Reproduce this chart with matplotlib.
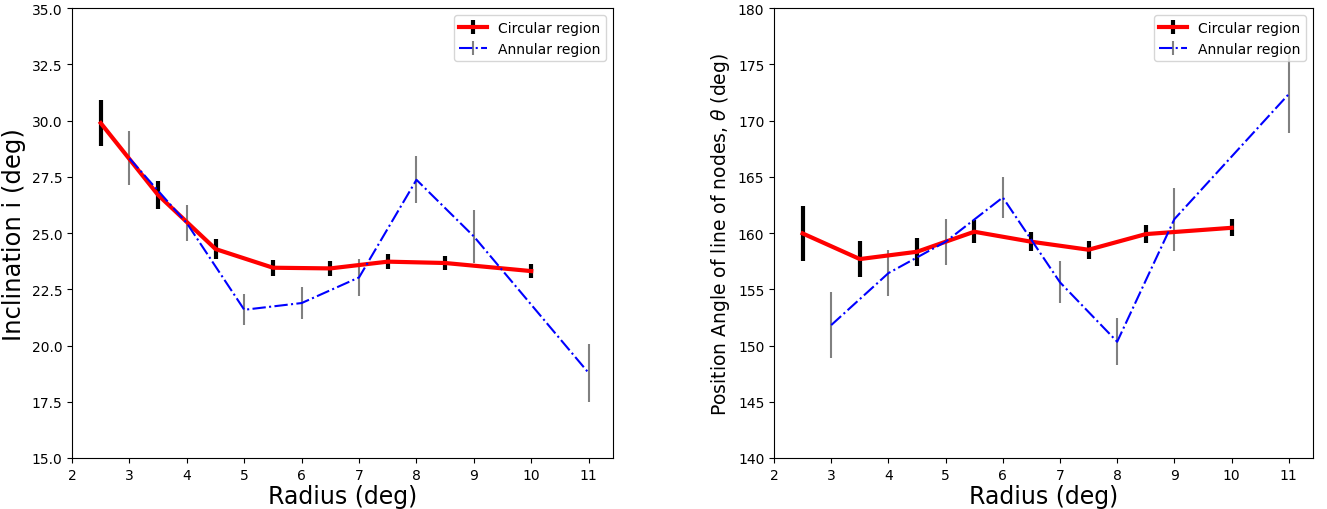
import matplotlib
matplotlib.use('Agg')
import matplotlib.pyplot as plt
import numpy as np

# radii of the two region sets
r_circ = [2.5, 3.5, 4.5, 5.5, 6.5, 7.5, 8.5, 10]
r_ann = [3, 4, 5, 6, 7, 8, 9, 11]

# inclination
inc_circ = [29.89, 26.69, 24.29, 23.46, 23.43, 23.73, 23.67, 23.31]
inc_circ_err = [1.04, 0.64, 0.46, 0.35, 0.34, 0.33, 0.33, 0.31]
inc_ann = [28.32, 25.44, 21.59, 21.89, 23.03, 27.37, 24.85, 18.78]
inc_ann_err = [1.2, 0.8, 0.69, 0.7, 0.84, 1.04, 1.19, 1.3]

# position angle of the line of nodes
pa_circ = [159.97, 157.69, 158.34, 160.12, 159.23, 158.52, 159.91, 160.47]
pa_circ_err = [2.44, 1.6, 1.26, 1.0, 0.86, 0.81, 0.81, 0.77]
pa_ann = [151.82, 156.44, 159.23, 163.17, 155.62, 150.34, 161.24, 172.36]
pa_ann_err = [2.9, 2.04, 2.04, 1.85, 1.87, 2.07, 2.81, 3.45]

xticks = np.arange(2, 12)


def panel(ax, yc, yc_err, ya, ya_err, ylim, ylabel, ylabel_size):
    ax.errorbar(r_circ, yc, yerr=yc_err, fmt='r-', lw=3, ecolor='k',
                elinewidth=3, label='Circular region')
    ax.errorbar(r_ann, ya, yerr=ya_err, fmt='b-.', lw=1.5, ecolor='gray',
                elinewidth=1.5, label='Annular region')
    ax.set_xlim(left=2)
    ax.set_xticks(xticks)
    ax.set_ylim(ylim)
    ax.set_xlabel('Radius (deg)', fontsize=17, labelpad=2)
    ax.set_ylabel(ylabel, fontsize=ylabel_size)
    ax.legend(loc='upper right')


fig = plt.figure(figsize=(13.27, 5.1), dpi=100)
ax1 = fig.add_axes([0.0543, 0.1, 0.4077, 0.882])
ax2 = fig.add_axes([0.5833, 0.1, 0.4062, 0.882])

panel(ax1, inc_circ, inc_circ_err, inc_ann, inc_ann_err, (15, 35),
      'Inclination i (deg)', 17.5)
panel(ax2, pa_circ, pa_circ_err, pa_ann, pa_ann_err, (140, 180),
      r'Position Angle of line of nodes, $\theta$ (deg)', 13.5)

fig.savefig('out.png', dpi=100)
